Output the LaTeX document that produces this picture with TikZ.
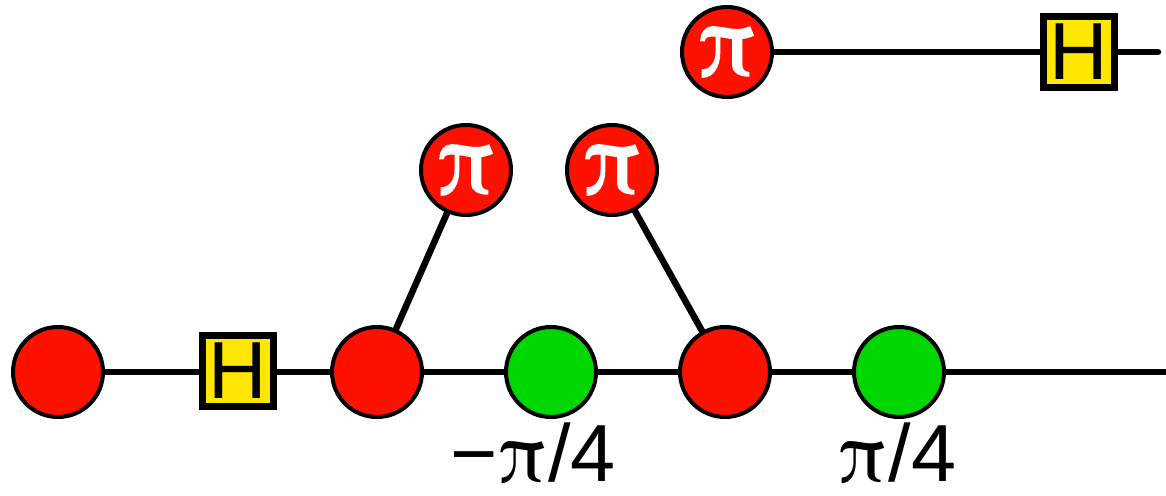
\documentclass[tikz,border=0pt]{standalone}
\usepackage{fontspec}
\setmainfont{Liberation Sans}
\newfontfamily\serifpi{TeX Gyre Termes}
\newfontfamily\heavypi[FakeBold=2]{TeX Gyre Termes}
\usetikzlibrary{backgrounds}
\definecolor{zred}{RGB}{255,17,0}
\definecolor{zgreen}{RGB}{0,215,0}
\definecolor{hyellow}{RGB}{255,230,0}
\begin{document}
\begin{tikzpicture}[x=1pt,y=-1pt,
  spider/.style={circle,draw=black,line width=4pt,minimum size=90pt,inner sep=0pt},
  rspider/.style={spider,fill=zred},
  gspider/.style={spider,fill=zgreen},
  pispider/.style={rspider,text=white,font=\fontsize{100}{100}\selectfont\heavypi},
  hbox/.style={rectangle,draw=black,line width=7pt,fill=hyellow,minimum size=71pt,inner sep=0pt,font=\fontsize{81}{81}\selectfont},
  wire/.style={line width=6.5pt},
  phase/.style={anchor=base,font=\fontsize{81}{81}\selectfont,inner sep=0pt}]
\useasboundingbox (0,0) rectangle (1166,495);
% bottom row
\node[rspider] (r1) at (58,372) {};
\node[hbox] (h1) at (238,371) {H};
\node[rspider] (r2) at (377,372) {};
\node[gspider] (g1) at (551,372) {};
\node[rspider] (r3) at (725,372) {};
\node[gspider] (g2) at (899,372) {};
\coordinate (e1) at (1166,372);
% pi nodes
\node[pispider] (p1) at (466,170) {π};
\node[pispider] (p2) at (612,170) {π};
\node[pispider] (p3) at (727,52) {π};
\node[hbox] (h2) at (1079,52) {H};
\coordinate (e2) at (1158,52);
% labels
\node[phase] (l1) at (533,481) {−{\fontsize{85}{85}\selectfont\serifpi π}/4};
\node[phase] (l2) at (897,481) {{\fontsize{85}{85}\selectfont\serifpi π}/4};
\begin{scope}[on background layer]
\draw[wire] (r1.center) -- (r2.center) -- (g1.center) -- (r3.center) -- (g2.center) -- (e1);
\draw[wire] (r2.center) -- (p1.center);
\draw[wire] (p2.center) -- (r3.center);
\draw[wire,line cap=round] (p3.center) -- (e2);
\end{scope}
\end{tikzpicture}
\end{document}
